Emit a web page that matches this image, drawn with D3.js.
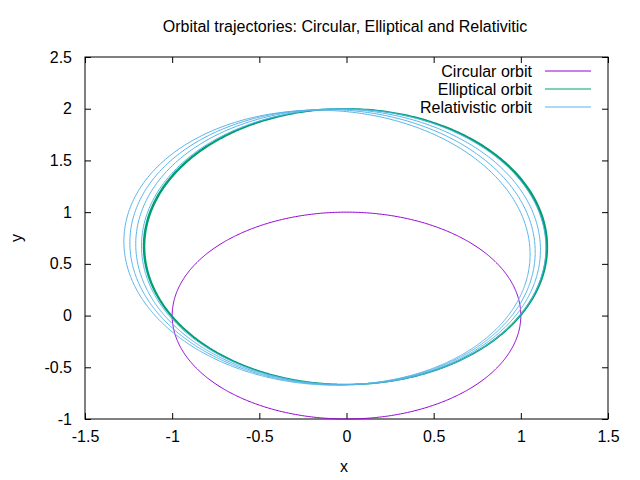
<!DOCTYPE html>
<html><head><meta charset="utf-8">
<script src="https://cdn.jsdelivr.net/npm/d3@7"></script>
<style>body{margin:0;background:#fff}text{font-family:"Liberation Sans",Arial,sans-serif;font-size:16px;fill:#000}</style>
</head><body><svg id="chart" width="640" height="480"></svg>
<script>
var xTicks = [-1.5, -1, -0.5, 0, 0.5, 1, 1.5];
var yTicks = [-1, -0.5, 0, 0.5, 1, 1.5, 2, 2.5];
var seriesNames = ["Circular orbit", "Elliptical orbit", "Relativistic orbit"];
var seriesColors = ["#9400d3", "#009e73", "#56b4e9"];
var seriesWidths = [1, 1.5, 1];
// orbit elements: semi-major axis, eccentricity,
// perihelion direction (deg) at start and end, number of revolutions
var semiMajor = [1, 1.333, 1.333];
var eccentricity = [0, 0.5, 0.5];
var periStart = [-90, -90, -90];
var periEnd = [-90, -89, -79];
var revolutions = [1, 2, 4];

var svg = d3.select("#chart");
var x = d3.scaleLinear().domain([-1.5, 1.5]).range([85, 608]);
var y = d3.scaleLinear().domain([-1, 2.5]).range([419, 57]);
var fmt = function (d) { return String(d); };

function orbit(i) {
    var pts = [], n = 720 * revolutions[i], a = semiMajor[i], e = eccentricity[i];
    var p = a * (1 - e * e);
    for (var k = 0; k <= n; k++) {
        var t = k / n;
        var phi = t * revolutions[i] * 2 * Math.PI + periStart[i] * Math.PI / 180;
        var w = (periStart[i] + (periEnd[i] - periStart[i]) * t) * Math.PI / 180;
        var r = p / (1 + e * Math.cos(phi - w));
        pts.push([r * Math.cos(phi), r * Math.sin(phi)]);
    }
    return pts;
}

var line = d3.line().x(function (d) { return x(d[0]); }).y(function (d) { return y(d[1]); });

// frame
svg.append("rect").attr("x", 85).attr("y", 57).attr("width", 523).attr("height", 362)
    .attr("fill", "none").attr("stroke", "#000");

svg.append("g").attr("transform", "translate(0,419)")
    .call(d3.axisBottom(x).tickValues(xTicks).tickSize(-6).tickPadding(12).tickFormat(fmt))
    .call(function (g) { g.select(".domain").remove(); });
svg.append("g").attr("transform", "translate(0,57)")
    .call(d3.axisTop(x).tickValues(xTicks).tickSize(-6).tickFormat(""))
    .call(function (g) { g.select(".domain").remove(); });
svg.append("g").attr("transform", "translate(85,0)")
    .call(d3.axisLeft(y).tickValues(yTicks).tickSize(-6).tickPadding(13).tickFormat(fmt))
    .call(function (g) { g.select(".domain").remove(); });
svg.append("g").attr("transform", "translate(608,0)")
    .call(d3.axisRight(y).tickValues(yTicks).tickSize(-6).tickFormat(""))
    .call(function (g) { g.select(".domain").remove(); });
svg.selectAll(".tick text").style("font-size", "16px").style("font-family", "Liberation Sans, Arial, sans-serif").attr("fill", "#000");

svg.selectAll("path.orbit").data(seriesNames).enter().append("path")
    .attr("class", "orbit")
    .attr("d", function (d, i) { return line(orbit(i)); })
    .attr("fill", "none")
    .attr("stroke", function (d, i) { return seriesColors[i]; })
    .attr("stroke-width", function (d, i) { return seriesWidths[i]; });

var leg = svg.selectAll("g.leg").data(seriesNames).enter().append("g")
    .attr("class", "leg")
    .attr("transform", function (d, i) { return "translate(0," + (71 + 18 * i) + ")"; });
leg.append("text").attr("x", 532).attr("dy", "0.35em").attr("text-anchor", "end").text(function (d) { return d; });
leg.append("line").attr("x1", 545).attr("x2", 591)
    .attr("stroke", function (d, i) { return seriesColors[i]; });

svg.append("text").attr("x", 345).attr("y", 32).attr("text-anchor", "middle")
    .text("Orbital trajectories: Circular, Elliptical and Relativitic");
svg.append("text").attr("x", 344).attr("y", 472).attr("text-anchor", "middle").text("x");
svg.append("text").attr("transform", "translate(22,238) rotate(-90)").attr("text-anchor", "middle").text("y");
</script></body></html>
